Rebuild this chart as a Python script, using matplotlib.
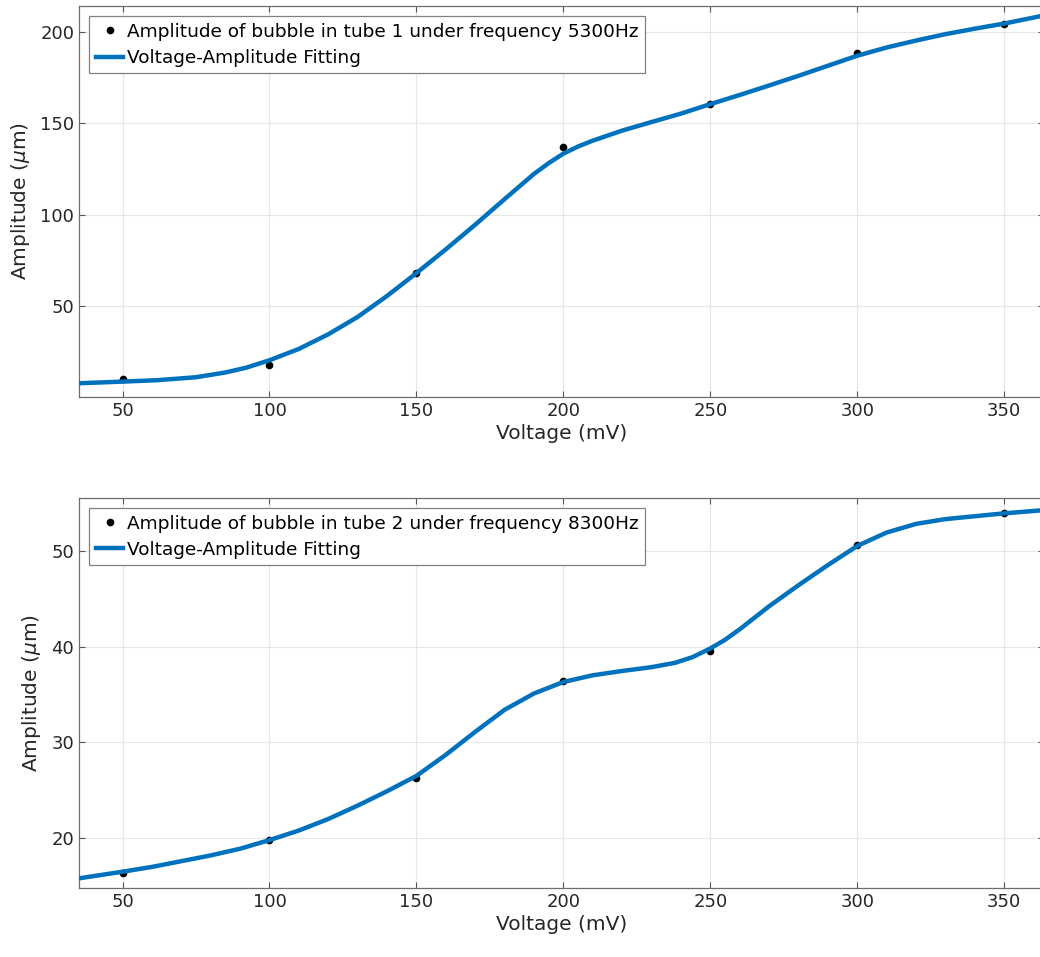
import matplotlib
matplotlib.use('Agg')
import matplotlib.pyplot as plt

plt.rcParams['font.family'] = ['DejaVu Sans']

# measured points
voltage = [50, 100, 150, 200, 250, 300, 350]
amp_tube1 = [10.0, 17.8, 68.0, 136.8, 160.4, 188.5, 204.6]
amp_tube2 = [16.4, 19.8, 26.3, 36.4, 39.5, 50.6, 53.9]

# fitted curves
fit_v1 = [35, 50, 62, 75, 85, 92, 100, 110, 120, 130, 140, 150, 160, 170, 180,
          190, 195, 200, 205, 210, 220, 230, 240, 250, 260, 270, 280, 290, 300,
          310, 320, 330, 340, 350, 364]
fit_a1 = [7.7, 8.6, 9.4, 11.0, 13.6, 16.2, 20.3, 26.5, 34.5, 44.0, 55.5, 68.0,
          81.0, 94.5, 108.5, 122.3, 128.2, 133.4, 137.3, 140.5, 146.0, 150.7,
          155.3, 160.5, 165.5, 170.7, 176.0, 181.5, 187.0, 191.5, 195.3, 198.8,
          201.8, 204.6, 209.2]
fit_v2 = [35, 50, 60, 70, 80, 90, 100, 110, 120, 130, 140, 150, 160, 170, 180,
          190, 200, 210, 220, 230, 238, 244, 250, 255, 260, 265, 270, 280, 290,
          300, 310, 320, 330, 340, 350, 364]
fit_a2 = [15.8, 16.5, 17.0, 17.6, 18.2, 18.9, 19.8, 20.8, 22.0, 23.4, 24.9, 26.5,
          28.7, 31.1, 33.4, 35.1, 36.3, 37.0, 37.45, 37.85, 38.3, 38.9, 39.8, 40.7,
          41.8, 43.0, 44.2, 46.4, 48.5, 50.5, 51.9, 52.8, 53.3, 53.6, 53.9, 54.25]

labels = ['Amplitude of bubble in tube 1 under frequency 5300Hz',
          'Amplitude of bubble in tube 2 under frequency 8300Hz']
ylims = [(0.2, 214.2), (14.8, 55.5)]
yticks = [[50, 100, 150, 200], [20, 30, 40, 50]]
xticks = [50, 100, 150, 200, 250, 300, 350]

fig = plt.figure(figsize=(10.4, 9.57), dpi=100)
ax1 = fig.add_axes([0.076, 0.5852, 0.928, 0.4085])
ax2 = fig.add_axes([0.076, 0.0721, 0.928, 0.4075])

datasets = [(amp_tube1, fit_v1, fit_a1), (amp_tube2, fit_v2, fit_a2)]
for i, ax in enumerate([ax1, ax2]):
    pts, fv, fa = datasets[i]
    ax.plot(voltage, pts, 'o', color='black', markersize=4.5, label=labels[i], zorder=2)
    ax.plot(fv, fa, '-', color='#0072BD', linewidth=3.2,
            label='Voltage-Amplitude Fitting', zorder=3, solid_joinstyle='round')
    ax.set_xlim(35.2, 363.6)
    ax.set_ylim(*ylims[i])
    ax.set_xticks(xticks)
    ax.set_yticks(yticks[i])
    ax.grid(True, color='#e6e6e6', linewidth=0.8)
    ax.set_axisbelow(True)
    ax.tick_params(direction='in', top=True, right=True, labelsize=13,
                   colors='#262626', length=4, width=0.8, color='#555555')
    for s in ax.spines.values():
        s.set_color('#6e6e6e')
        s.set_linewidth(0.9)
    ax.set_xlabel('Voltage (mV)', fontsize=14.5, color='#262626', labelpad=3)
    ax.set_ylabel(r'Amplitude ($\mu$m)', fontsize=14.5, color='#262626', labelpad=6)
    leg = ax.legend(loc='upper left', fontsize=13.3, frameon=True, fancybox=False,
                    handlelength=1.5, handletextpad=0.2, borderaxespad=0.55,
                    borderpad=0.35, labelspacing=0.45, framealpha=1)
    leg.get_frame().set_edgecolor('#808080')
    leg.get_frame().set_linewidth(0.9)

fig.savefig('out.png', dpi=100)
